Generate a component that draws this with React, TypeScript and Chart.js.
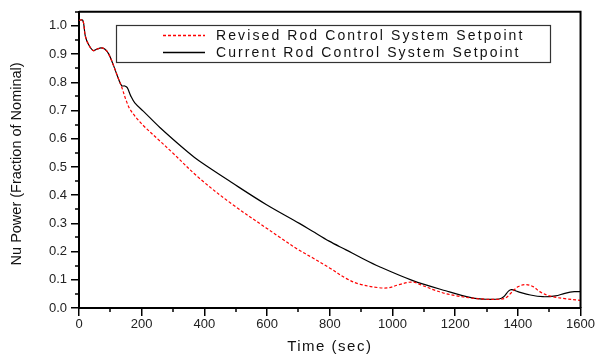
import { useEffect, useRef } from "react";
import { Chart, registerables } from "chart.js";
Chart.register(...registerables);

const currentTime = [0, 12, 20, 30, 45, 58, 70, 82, 95, 110, 125, 136, 146, 154, 165, 178, 205, 258, 348, 385, 491, 597, 703, 745, 798, 852, 900, 957, 1063, 1170, 1254, 1300, 1340, 1355, 1370, 1380, 1400, 1440, 1480, 1520, 1550, 1580, 1600];
const currentPower = [1.02, 1.02, 0.965, 0.935, 0.913, 0.918, 0.922, 0.918, 0.9, 0.86, 0.815, 0.788, 0.787, 0.781, 0.752, 0.727, 0.698, 0.64, 0.552, 0.52, 0.442, 0.367, 0.3, 0.272, 0.237, 0.206, 0.178, 0.147, 0.098, 0.061, 0.036, 0.031, 0.032, 0.04, 0.06, 0.065, 0.058, 0.046, 0.04, 0.043, 0.052, 0.058, 0.058];
const revisedTime = [0, 12, 20, 30, 45, 58, 70, 82, 95, 110, 125, 134, 139, 150, 162, 183, 205, 258, 295, 385, 491, 597, 639, 698, 745, 798, 852, 894, 957, 989, 1021, 1063, 1095, 1130, 1170, 1200, 1254, 1300, 1340, 1360, 1380, 1400, 1425, 1450, 1470, 1500, 1550, 1600];
const revisedPower = [1.02, 1.02, 0.965, 0.935, 0.913, 0.918, 0.922, 0.918, 0.9, 0.86, 0.815, 0.79, 0.774, 0.737, 0.706, 0.674, 0.647, 0.592, 0.554, 0.459, 0.366, 0.284, 0.252, 0.208, 0.178, 0.143, 0.105, 0.085, 0.072, 0.072, 0.083, 0.092, 0.08, 0.065, 0.051, 0.044, 0.035, 0.031, 0.031, 0.035, 0.055, 0.075, 0.083, 0.075, 0.058, 0.043, 0.033, 0.027];

const xTicks = [0, 200, 400, 600, 800, 1000, 1200, 1400, 1600];
const yTicks = [0, 0.1, 0.2, 0.3, 0.4, 0.5, 0.6, 0.7, 0.8, 0.9, 1.0];
const seriesLabels = ["Revised Rod Control System Setpoint", "Current Rod Control System Setpoint"];
const seriesColors = ["#ff0000", "#000000"];
const xTitle = "Time (sec)";
const yTitle = "Nu Power (Fraction of Nominal)";

const FONT = '"Liberation Sans", Arial, sans-serif';

const framePlugin = {
  id: "frame",
  afterDraw(chart: any) {
    const ctx = chart.ctx as CanvasRenderingContext2D;
    const { left, right, top, bottom } = chart.chartArea;
    const xs = chart.scales.x;
    const ys = chart.scales.y;
    ctx.save();
    ctx.strokeStyle = "#000";
    ctx.lineWidth = 2;
    ctx.beginPath();
    ctx.moveTo(left, top);
    ctx.lineTo(right, top);
    ctx.lineTo(right, bottom);
    ctx.stroke();
    ctx.lineWidth = 1.5;
    ctx.beginPath();
    for (let i = 0; i < xTicks.length - 1; i++) {
      const px = Math.round(xs.getPixelForValue((xTicks[i] + xTicks[i + 1]) / 2));
      ctx.moveTo(px, bottom);
      ctx.lineTo(px, bottom + 4);
    }
    for (let i = 0; i < yTicks.length; i++) {
      const v = yTicks[i] + 0.05;
      const py = Math.round(ys.getPixelForValue(v));
      if (py < top) continue;
      ctx.moveTo(left, py);
      ctx.lineTo(left - 4, py);
    }
    ctx.stroke();
    ctx.fillStyle = "#111";
    (ctx as any).letterSpacing = "1.5px";
    ctx.font = `15px ${FONT}`;
    ctx.textAlign = "center";
    ctx.textBaseline = "middle";
    ctx.fillText(xTitle, (left + right) / 2, 347);
    ctx.save();
    ctx.translate(17, (top + bottom) / 2 + 4);
    ctx.rotate(-Math.PI / 2);
    (ctx as any).letterSpacing = "0px";
    ctx.font = `14.5px ${FONT}`;
    ctx.fillText(yTitle, 0, 0);
    ctx.restore();
    const bx = 116, by = 25, bw = 434, bh = 37;
    ctx.fillStyle = "#fff";
    ctx.fillRect(bx, by, bw, bh);
    ctx.strokeStyle = "#333";
    ctx.lineWidth = 1.2;
    ctx.strokeRect(bx + 0.5, by + 0.5, bw, bh);
    const rows = [35.5, 52.5];
    for (let i = 0; i < seriesLabels.length; i++) {
      ctx.strokeStyle = seriesColors[i];
      ctx.lineWidth = 1.3;
      ctx.setLineDash(i === 0 ? [3, 2] : []);
      ctx.beginPath();
      ctx.moveTo(163, rows[i]);
      ctx.lineTo(205, rows[i]);
      ctx.stroke();
      ctx.setLineDash([]);
      ctx.fillStyle = "#111";
      ctx.font = `14px ${FONT}`;
      (ctx as any).letterSpacing = "2.1px";
      ctx.textAlign = "left";
      ctx.textBaseline = "middle";
      ctx.fillText(seriesLabels[i], 216, rows[i] + 0.5);
    }
    ctx.restore();
  },
};

export default function App() {
  const ref = useRef<HTMLCanvasElement>(null);
  useEffect(() => {
    document.body.style.margin = "0";
    const chart = new Chart(ref.current!, {
      type: "line",
      data: {
        datasets: [
          {
            label: seriesLabels[0],
            data: revisedTime.map((t, i) => ({ x: t, y: revisedPower[i] })),
            borderColor: seriesColors[0],
            borderWidth: 1.2,
            borderDash: [3, 2],
            pointRadius: 0,
            tension: 0.35,
            fill: false,
          },
          {
            label: seriesLabels[1],
            data: currentTime.map((t, i) => ({ x: t, y: currentPower[i] })),
            borderColor: seriesColors[1],
            borderWidth: 1.2,
            pointRadius: 0,
            tension: 0.35,
            fill: false,
          },
        ],
      },
      options: {
        responsive: false,
        animation: false,
        layout: { padding: { left: 0, right: 14, top: 8, bottom: 0 } },
        plugins: { legend: { display: false }, tooltip: { enabled: false } },
        scales: {
          x: {
            type: "linear",
            min: 0,
            max: 1600,
            afterBuildTicks: (s: any) => {
              s.ticks = xTicks.map((v) => ({ value: v }));
            },
            afterFit: (s: any) => {
              s.height = 50;
            },
            grid: { display: true, drawOnChartArea: false, drawTicks: true, tickLength: 8, color: "#000", lineWidth: 1.5 },
            border: { display: true, color: "#000", width: 2 },
            ticks: {
              color: "#222",
              font: { family: FONT, size: 13 },
              padding: 1,
              maxRotation: 0,
              callback: (v: any) => String(v),
            },
          },
          y: {
            type: "linear",
            min: 0,
            max: 1.05,
            afterBuildTicks: (s: any) => {
              s.ticks = yTicks.map((v) => ({ value: v }));
            },
            afterFit: (s: any) => {
              s.width = 79;
            },
            grid: { display: true, drawOnChartArea: false, drawTicks: true, tickLength: 8, color: "#000", lineWidth: 1.5 },
            border: { display: true, color: "#000", width: 2 },
            ticks: {
              color: "#222",
              font: { family: FONT, size: 13 },
              padding: 4,
              callback: (v: any) => Number(v).toFixed(1),
            },
          },
        },
      },
      plugins: [framePlugin],
    } as any);
    return () => chart.destroy();
  }, []);
  return (
    <div style={{ position: "absolute", left: 0, top: 0 }}>
      <canvas ref={ref} width={596} height={358} style={{ display: "block" }} />
    </div>
  );
}
